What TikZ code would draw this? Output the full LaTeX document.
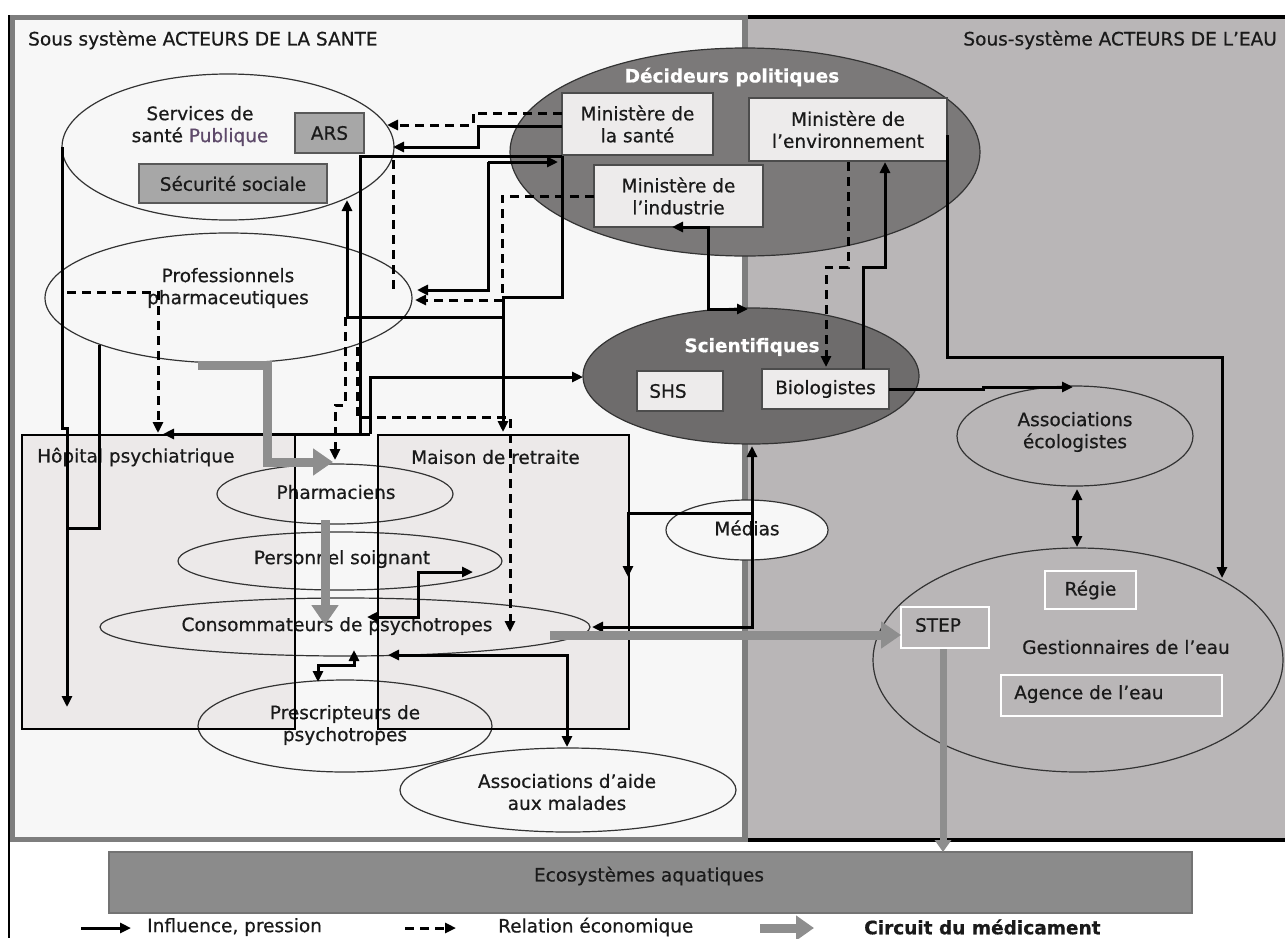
\documentclass[tikz,border=0pt]{standalone}
\usepackage{fontspec}
\setmainfont{DejaVu Sans}[FakeBold=0.6]
\usetikzlibrary{arrows.meta,shapes.geometric}
\definecolor{bgleft}{HTML}{F7F7F7}
\definecolor{bgright}{HTML}{B9B6B7}
\definecolor{framegray}{HTML}{7E7E7E}
\definecolor{deccol}{HTML}{7B7979}
\definecolor{scicol}{HTML}{6E6C6C}
\definecolor{instcol}{HTML}{ECE9E9}
\definecolor{arscol}{HTML}{A7A7A7}
\definecolor{flowcol}{HTML}{8E8E8E}
\definecolor{ecocol}{HTML}{8B8B8B}
\definecolor{purp}{HTML}{5E4A6A}
\definecolor{mincol}{HTML}{EDEBEB}
\definecolor{edgecol}{HTML}{333333}
\definecolor{txtcol}{HTML}{1A1A1A}
\begin{document}
\begin{tikzpicture}[x=1pt,y=-1pt,
  font=\fontsize{18.5}{22}\selectfont,
  ell/.style={ellipse, draw=edgecol, line width=1.2pt, inner sep=0pt},
  lbl/.style={inner sep=0pt, align=center, text=txtcol},
  graybox/.style={draw=black!65, fill=arscol, line width=1.6pt, inner sep=0pt, text=txtcol},
  minbox/.style={draw=black!70, fill=mincol, line width=1.6pt, inner sep=0pt, align=center, text=txtcol},
  whitebox/.style={draw=white, line width=2pt, inner sep=0pt, text=txtcol},
  tip/.style={-{Triangle[length=11pt,width=10pt]}},
  infl/.style={draw=black, line width=3pt},
  econ/.style={draw=black, line width=3pt, dash pattern=on 9pt off 6pt},
  flow/.style={draw=flowcol, line width=9pt, -{Triangle[length=20pt,width=26pt]}},
]
\useasboundingbox (0,0) rectangle (1285,938);
\fill[white] (0,0) rectangle (1285,938);

% the two sub-systems
\fill[bgleft] (10,15) rectangle (745,842);
\fill[bgright] (745,15) rectangle (1285,842);
\draw[framegray, line width=5pt] (745,17.5) -- (12.5,17.5) -- (12.5,839.5) -- (745,839.5);
\draw[black, line width=4.5pt] (745,17) -- (1285,17);
\draw[black, line width=4.5pt] (745,840) -- (1285,840);
\draw[framegray, line width=6pt] (745,15) -- (745,842);
\draw[black, line width=2pt] (9,15) -- (9,938);

\node[lbl, anchor=west] (titleL) at (28,40) {Sous système ACTEURS DE LA SANTE};
\node[lbl, anchor=east] (titleR) at (1277,40) {Sous-système ACTEURS DE L’EAU};

% institutions
\fill[instcol] (22,435) rectangle (295,729);
\fill[instcol] (378,435) rectangle (629,729);
\node[lbl, anchor=west] (hopT) at (37,457) {Hôpital psychiatrique};
\node[lbl, anchor=west] (mdrT) at (411,457) {Maison de retraite};

% health actors
\node[ell, minimum width=332pt, minimum height=146pt] (svc) at (228,147) {};
\node[lbl] (svcT) at (200,126) {Services de\\santé \textcolor{purp}{Publique}};
\node[graybox, minimum width=69pt, minimum height=40pt] (ars) at (329.5,133) {ARS};
\node[graybox, minimum width=188pt, minimum height=39pt] (secu) at (233,183.5) {Sécurité sociale};
\node[ell, minimum width=367pt, minimum height=130pt] (pro) at (228.5,298) {};
\node[lbl] (proT) at (228,288) {Professionnels\\pharmaceutiques};

\node[ell, minimum width=236pt, minimum height=60pt] (pha) at (335,494) {};
\node[lbl] (phaT) at (336,492) {Pharmaciens};
\node[ell, minimum width=324pt, minimum height=58pt] (pers) at (340,561) {};
\node[lbl] (persT) at (342,559) {Personnel soignant};
\node[ell, minimum width=490pt, minimum height=58pt] (cons) at (345,627) {};
\node[lbl] (consT) at (337,626) {Consommateurs de psychotropes};
\node[ell, minimum width=294pt, minimum height=92pt] (pres) at (345,726) {};
\node[lbl] (presT) at (345,725) {Prescripteurs de\\psychotropes};
\node[ell, minimum width=336pt, minimum height=84pt] (aam) at (568,790) {};
\node[lbl] (aamT) at (567,792) {Associations d’aide\\aux malades};

% box outlines drawn over their contents
\draw[black, line width=2.6pt] (295,729) -- (22,729) -- (22,435) -- (295,435) -- cycle;
\draw[black, line width=2.6pt] (378,435) rectangle (629,729);

% political deciders
\node[ell, fill=deccol, minimum width=470pt, minimum height=208pt] (dec) at (745,152) {};
\node[lbl, text=white, font=\fontsize{18.5}{22}\selectfont\bfseries] (decT) at (732,77) {Décideurs politiques};
\node[minbox, minimum width=151pt, minimum height=62pt] (msan) at (637.5,124) {Ministère de\\la santé};
\node[minbox, minimum width=169pt, minimum height=62pt] (mind) at (678.5,196) {Ministère de\\l’industrie};
\node[minbox, minimum width=198pt, minimum height=63pt] (menv) at (848,129.5) {Ministère de\\l’environnement};

% scientists
\node[ell, fill=scicol, minimum width=336pt, minimum height=136pt] (sci) at (751,376) {};
\node[lbl, text=white, font=\fontsize{18.5}{22}\selectfont\bfseries] (sciT) at (752,347) {Scientifiques};
\node[minbox, minimum width=86pt, minimum height=40pt] (shs) at (680,391) {};
\node[lbl] (shsT) at (668,391) {SHS};
\node[minbox, minimum width=127pt, minimum height=40pt] (bio) at (825.5,389) {Biologistes};

\node[ell, fill=bgleft, minimum width=162pt, minimum height=60pt] (med) at (747,530) {};
\node[lbl] (medT) at (747,528) {Médias};

% water actors
\node[ell, minimum width=236pt, minimum height=100pt] (aeco) at (1075,436) {};
\node[lbl] (aecoT) at (1075,432) {Associations\\écologistes};
\node[ell, minimum width=410pt, minimum height=224pt] (gest) at (1078,660) {};
\node[lbl] (gestT) at (1126,647) {Gestionnaires de l’eau};
\node[whitebox, minimum width=91pt, minimum height=38pt] (regie) at (1090.5,590) {Régie};
\node[whitebox, minimum width=88pt, minimum height=41pt] (step) at (945,627.5) {};
\node[lbl] (stepT) at (938,625) {STEP};
\node[whitebox, minimum width=221pt, minimum height=41pt] (agence) at (1111.5,695.5) {};
\node[lbl, anchor=west] (agenceT) at (1014,694) {Agence de l’eau};

% aquatic ecosystems
\node[draw=black!55, fill=ecocol, line width=1.5pt, minimum width=1083pt, minimum height=61pt, inner sep=0pt] (aqua) at (650.5,882.5) {};
\node[lbl] (aquaT) at (649,876) {Ecosystèmes aquatiques};

% influence / pressure links
\draw[infl, tip] (562,126) -- (478,126) -- (478,147) -- (393,147);
\draw[infl] (562,156) -- (360,156) -- (360,434);
\draw[infl, tip] (370,434) -- (370,377) -- (583,377);
\draw[infl, tip] (370,434) -- (163,434);
\draw[infl, tip] (488,162) -- (558,162);
\draw[infl, tip] (488,162) -- (488,290) -- (417,290);
\draw[infl, tip] (562,156) -- (562,297) -- (503,297) -- (503,432);
\draw[infl, tip] (503,317) -- (347,317) -- (347,200);
\draw[infl, tip] (708,260) -- (708,227) -- (672,227);
\draw[infl, tip] (708,260) -- (708,309) -- (748,309);
\draw[infl, tip] (863,369) -- (863,267) -- (885,267) -- (885,162);
\draw[infl, tip] (947,135) -- (947,357) -- (1222,357) -- (1222,578);
\draw[infl, tip] (889,389) -- (983,389) -- (983,387) -- (1073,387);
\draw[infl, {Triangle[length=11pt,width=10pt]}-{Triangle[length=11pt,width=10pt]}] (1077,489) -- (1077,547);
\draw[infl, tip] (752,560) -- (752,446);
\draw[infl, tip] (752,560) -- (752,627) -- (592,627);
\draw[infl, tip] (752,513) -- (628,513) -- (628,577);
\draw[infl, tip] (418,595) -- (418,617) -- (367,617);
\draw[infl, tip] (418,595) -- (418,572) -- (473,572);
\draw[infl, tip] (336,665) -- (354,665) -- (354,650);
\draw[infl, tip] (336,665) -- (318,665) -- (318,682);
\draw[infl, tip] (567,700) -- (567,655) -- (388,655);
\draw[infl, tip] (567,700) -- (567,747);
\draw[infl, tip] (62,147) -- (62,428) -- (67,428) -- (67,707);
\draw[infl] (99,345) -- (99,528) -- (67,528);

% economic links
\draw[econ, tip] (562,113) -- (473,113) -- (473,125) -- (387,125);
\draw[econ, tip] (594,196) -- (502,196) -- (502,300) -- (415,300);
\draw[econ] (393,160) -- (393,290);
\draw[econ, tip] (67,292) -- (158,292) -- (158,433);
\draw[econ, tip] (848,162) -- (848,267) -- (826,267) -- (826,367);
\draw[econ, tip] (345,317) -- (345,405) -- (335,405) -- (335,460);
\draw[econ, tip] (357,347) -- (357,417) -- (510,417) -- (510,632);

% drug circuit
\draw[flow] (198,365) -- (267,365) -- (267,462) -- (333,462);
\draw[flow] (325,520) -- (325,625);
\draw[flow] (550,635) -- (901,635);
\draw[draw=flowcol, line width=7pt, -{Triangle[length=12pt,width=16pt]}] (943,649) -- (943,852);

% legend
\draw[infl, tip] (81,928) -- (131,928);
\node[lbl, anchor=west] (legA) at (147,927) {Influence, pression};
\draw[econ, tip] (405,928) -- (456,928);
\node[lbl, anchor=west] (legB) at (498,927) {Relation économique};
\draw[draw=flowcol, line width=9pt, -{Triangle[length=18pt,width=24pt]}] (760,928) -- (814,928);
\node[lbl, anchor=west, font=\fontsize{18.5}{22}\selectfont\bfseries] (legC) at (864,927) {Circuit du médicament};
\end{tikzpicture}
\end{document}
